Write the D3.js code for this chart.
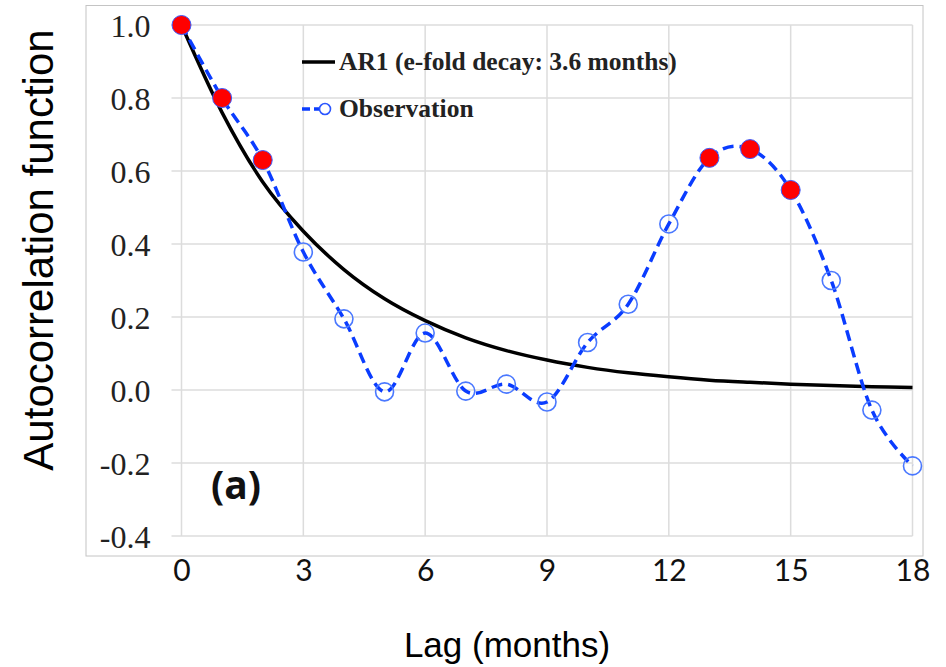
<!DOCTYPE html>
<html>
<head>
<meta charset="utf-8">
<script src="https://cdn.jsdelivr.net/npm/d3@7"></script>
<style>
body{margin:0;background:#fff;}
svg{display:block;}
</style>
</head>
<body>
<svg id="chart" width="946" height="667"></svg>
<script>
// values
const lags = [0,1,2,3,4,5,6,7,8,9,10,11,12,13,14,15,16,17,18];
const ar1 = [1.0,0.76,0.57,0.435,0.33,0.25,0.19,0.143,0.108,0.082,0.062,0.047,0.036,0.027,0.021,0.016,0.012,0.009,0.007];
const observation = [1.0,0.80,0.63,0.378,0.195,-0.005,0.156,-0.003,0.016,-0.033,0.13,0.235,0.455,0.636,0.66,0.548,0.30,-0.055,-0.208];
const highlighted = [0,1,2,13,14,15];
const xTicks = [0,3,6,9,12,15,18];
const yTicks = [-0.4,-0.2,0.0,0.2,0.4,0.6,0.8,1.0];

const svg = d3.select('#chart');
const x = d3.scaleLinear().domain([0,18]).range([181.5,912.5]);
const y = d3.scaleLinear().domain([-0.4,1.0]).range([536,25]);

// outer frame
svg.append('rect')
	.attr('x',86).attr('y',5.5).attr('width',837).attr('height',550.5)
	.attr('fill','none').attr('stroke','#c4c4c4').attr('stroke-width',1);

// grid
const grid = svg.append('g');
grid.selectAll('line.v')
	.data(xTicks)
	.join('line')
		.classed('v',true)
		.attr('x1',d=>x(d)).attr('x2',d=>x(d))
		.attr('y1',y(1.0)).attr('y2',y(-0.4))
		.attr('stroke','#dcdcdc').attr('stroke-width',1.5);
grid.selectAll('line.h')
	.data(yTicks)
	.join('line')
		.classed('h',true)
		.attr('x1',x(0)-10).attr('x2',x(18))
		.attr('y1',d=>y(d)).attr('y2',d=>y(d))
		.attr('stroke','#dcdcdc').attr('stroke-width',1.5);

// axes labels (hyphen minus like the original)
const yAxis = d3.axisLeft(y).tickValues(yTicks)
	.tickFormat(d=>d.toFixed(1).replace('\u2212','-'))
	.tickSize(0).tickPadding(31);
const gy = svg.append('g').attr('transform','translate('+x(0)+',0)').call(yAxis);
gy.select('.domain').remove();
gy.selectAll('text')
	.attr('font-family','"Liberation Serif", serif')
	.attr('font-size',32).attr('fill','#222')
	.attr('dy','0.35em');

const xAxis = d3.axisBottom(x).tickValues(xTicks).tickSize(0).tickPadding(0);
const gx = svg.append('g').attr('transform','translate(0,560)').call(xAxis);
gx.select('.domain').remove();
gx.selectAll('text')
	.attr('font-family','Lato, "Open Sans", sans-serif')
	.attr('font-size',30).attr('fill','#111')
	.attr('dy','0.71em');

svg.append('text')
	.attr('transform','translate(53,250) rotate(-90)')
	.attr('text-anchor','middle')
	.attr('font-family','"Liberation Sans", Arial, sans-serif')
	.attr('font-size',42).attr('fill','#000')
	.text('Autocorrelation function');

svg.append('text')
	.attr('x',507).attr('y',657)
	.attr('text-anchor','middle')
	.attr('font-family','"Liberation Sans", Arial, sans-serif')
	.attr('font-size',35).attr('fill','#000')
	.text('Lag (months)');

svg.append('text')
	.attr('x',211).attr('y',499)
	.attr('font-family','"Open Sans", Lato, sans-serif')
	.attr('font-weight','bold')
	.attr('font-size',39).attr('fill','#111')
	.text('(a)');

// series
const arLine = d3.line()
	.x((d,i)=>x(lags[i]))
	.y(d=>y(d))
	.curve(d3.curveCardinal.tension(0));
svg.append('path')
	.datum(ar1)
	.attr('d',arLine)
	.attr('fill','none').attr('stroke','#000').attr('stroke-width',3.5);

svg.append('path')
	.datum(observation)
	.attr('d',arLine)
	.attr('fill','none').attr('stroke','#0a3cff').attr('stroke-width',3.5)
	.attr('stroke-dasharray','11,6');

const pts = lags.map((l,i)=>({lag:l,value:observation[i],on:highlighted.indexOf(l)>=0}));
svg.selectAll('circle.obs')
	.data(pts)
	.join('circle')
		.classed('obs',true)
		.attr('cx',d=>x(d.lag)).attr('cy',d=>y(d.value))
		.attr('r',d=>d.on?9.5:9)
		.attr('fill',d=>d.on?'#ff0000':'none')
		.attr('stroke',d=>d.on?'#3a5cff':'#4a78ff')
		.attr('stroke-width',d=>d.on?1:1.6);

// legend
const legend = svg.append('g');
legend.append('line')
	.attr('x1',302).attr('x2',335).attr('y1',62).attr('y2',62)
	.attr('stroke','#000').attr('stroke-width',3.5);
legend.append('text')
	.attr('x',339).attr('y',70)
	.attr('font-family','"Liberation Serif", serif').attr('font-weight','bold')
	.attr('font-size',25.5).attr('fill','#222')
	.text('AR1 (e-fold decay: 3.6 months)');
legend.append('line')
	.attr('x1',302).attr('x2',331).attr('y1',109).attr('y2',109)
	.attr('stroke','#0a3cff').attr('stroke-width',3.5).attr('stroke-dasharray','8,4');
legend.append('circle')
	.attr('cx',325).attr('cy',109).attr('r',5.5)
	.attr('fill','#fff').attr('stroke','#2a55ff').attr('stroke-width',1.6);
legend.append('text')
	.attr('x',339).attr('y',117)
	.attr('font-family','"Liberation Serif", serif').attr('font-weight','bold')
	.attr('font-size',25.5).attr('fill','#222')
	.text('Observation');
</script>
</body>
</html>
